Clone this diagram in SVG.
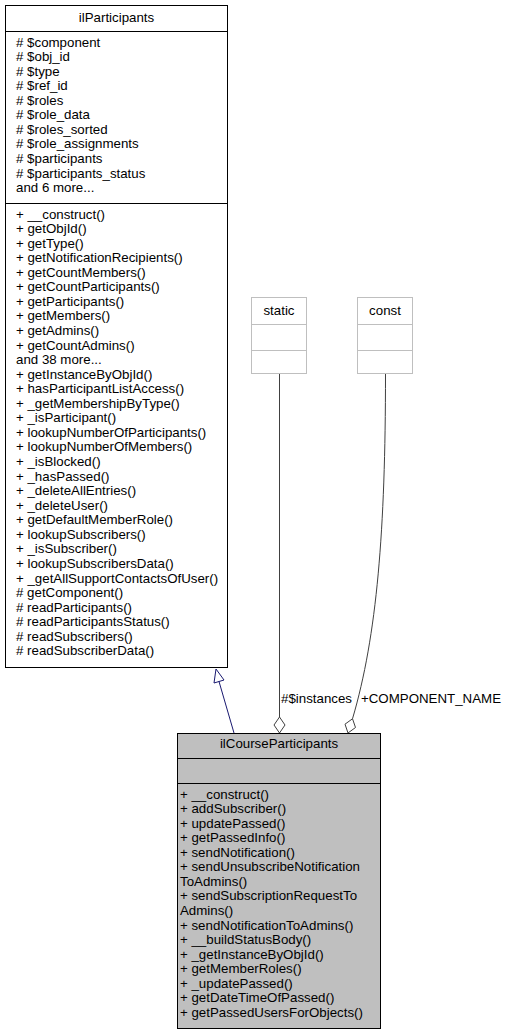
<svg xmlns="http://www.w3.org/2000/svg" width="507" height="1035" viewBox="0 0 507 1035">
<style>
.t{font-family:"Liberation Sans",Arial,Helvetica,sans-serif;font-size:13.3px;fill:#000}
.c{text-anchor:middle}
.box{fill:#fff;stroke:#000;stroke-width:1}
.hl{fill:#bfbfbf;stroke:#000;stroke-width:1}
.gb{fill:#fff;stroke:#bfbfbf;stroke-width:1}
.div{stroke:#000;stroke-width:1}
.gdiv{stroke:#bfbfbf;stroke-width:1}
.inh{fill:none;stroke:#191970;stroke-width:1}
.use{fill:none;stroke:#404040;stroke-width:1}
</style>
<rect width="507" height="1035" fill="#fff"/>
<g id="connectors">
  <path class="inh" d="M234,733 L219,681.5"/>
  <polygon class="inh" fill="#fff" points="216,669 214,683 224,680"/>
  <path class="use" d="M279.5,374 L279.5,717"/>
  <polygon class="use" fill="#fff" points="279.5,733 285,725 279.5,717 274,725"/>
  <path class="use" d="M385.5,374 C385.5,530 377,636 352.5,718.75"/>
  <polygon class="use" fill="#fff" points="348,733 345,724.2 352.5,718.75 355.5,727.5"/>
  <text class="t" x="281" y="703">#$instances</text>
  <text class="t" x="361" y="703">+COMPONENT_NAME</text>
</g>
<g id="ilParticipants">
  <rect class="box" x="5.5" y="5.5" width="222" height="662"/>
  <line class="div" x1="5.5" y1="31.5" x2="227.5" y2="31.5"/>
  <line class="div" x1="5.5" y1="203.5" x2="227.5" y2="203.5"/>
  <text class="t c" x="116.5" y="22">ilParticipants</text>
  <text class="t" x="16" y="46.5">
    <tspan x="16"># $component</tspan>
    <tspan x="16" dy="14.56"># $obj_id</tspan>
    <tspan x="16" dy="14.56"># $type</tspan>
    <tspan x="16" dy="14.56"># $ref_id</tspan>
    <tspan x="16" dy="14.56"># $roles</tspan>
    <tspan x="16" dy="14.56"># $role_data</tspan>
    <tspan x="16" dy="14.56"># $roles_sorted</tspan>
    <tspan x="16" dy="14.56"># $role_assignments</tspan>
    <tspan x="16" dy="14.56"># $participants</tspan>
    <tspan x="16" dy="14.56"># $participants_status</tspan>
    <tspan x="16" dy="14.56">and 6 more...</tspan>
  </text>
  <text class="t" x="16" y="218.5">
    <tspan x="16">+ __construct()</tspan>
    <tspan x="16" dy="14.56">+ getObjId()</tspan>
    <tspan x="16" dy="14.56">+ getType()</tspan>
    <tspan x="16" dy="14.56">+ getNotificationRecipients()</tspan>
    <tspan x="16" dy="14.56">+ getCountMembers()</tspan>
    <tspan x="16" dy="14.56">+ getCountParticipants()</tspan>
    <tspan x="16" dy="14.56">+ getParticipants()</tspan>
    <tspan x="16" dy="14.56">+ getMembers()</tspan>
    <tspan x="16" dy="14.56">+ getAdmins()</tspan>
    <tspan x="16" dy="14.56">+ getCountAdmins()</tspan>
    <tspan x="16" dy="14.56">and 38 more...</tspan>
    <tspan x="16" dy="14.56">+ getInstanceByObjId()</tspan>
    <tspan x="16" dy="14.56">+ hasParticipantListAccess()</tspan>
    <tspan x="16" dy="14.56">+ _getMembershipByType()</tspan>
    <tspan x="16" dy="14.56">+ _isParticipant()</tspan>
    <tspan x="16" dy="14.56">+ lookupNumberOfParticipants()</tspan>
    <tspan x="16" dy="14.56">+ lookupNumberOfMembers()</tspan>
    <tspan x="16" dy="14.56">+ _isBlocked()</tspan>
    <tspan x="16" dy="14.56">+ _hasPassed()</tspan>
    <tspan x="16" dy="14.56">+ _deleteAllEntries()</tspan>
    <tspan x="16" dy="14.56">+ _deleteUser()</tspan>
    <tspan x="16" dy="14.56">+ getDefaultMemberRole()</tspan>
    <tspan x="16" dy="14.56">+ lookupSubscribers()</tspan>
    <tspan x="16" dy="14.56">+ _isSubscriber()</tspan>
    <tspan x="16" dy="14.56">+ lookupSubscribersData()</tspan>
    <tspan x="16" dy="14.56">+ _getAllSupportContactsOfUser()</tspan>
    <tspan x="16" dy="14.56"># getComponent()</tspan>
    <tspan x="16" dy="14.56"># readParticipants()</tspan>
    <tspan x="16" dy="14.56"># readParticipantsStatus()</tspan>
    <tspan x="16" dy="14.56"># readSubscribers()</tspan>
    <tspan x="16" dy="14.56"># readSubscriberData()</tspan>
  </text>
</g>
<g id="static">
  <rect class="gb" x="251.5" y="297.5" width="55" height="76"/>
  <line class="gdiv" x1="251.5" y1="324.5" x2="306.5" y2="324.5"/>
  <line class="gdiv" x1="251.5" y1="350.5" x2="306.5" y2="350.5"/>
  <text class="t c" x="279" y="315">static</text>
</g>
<g id="const">
  <rect class="gb" x="357.5" y="297.5" width="55" height="76"/>
  <line class="gdiv" x1="357.5" y1="324.5" x2="412.5" y2="324.5"/>
  <line class="gdiv" x1="357.5" y1="350.5" x2="412.5" y2="350.5"/>
  <text class="t c" x="385" y="315">const</text>
</g>
<g id="ilCourseParticipants">
  <rect class="hl" x="177.5" y="733.5" width="203" height="295"/>
  <line class="div" x1="177.5" y1="758.5" x2="380.5" y2="758.5"/>
  <line class="div" x1="177.5" y1="783.5" x2="380.5" y2="783.5"/>
  <text class="t c" x="279" y="748">ilCourseParticipants</text>
  <text class="t" x="180" y="798.5">
    <tspan x="180">+ __construct()</tspan>
    <tspan x="180" dy="14.56">+ addSubscriber()</tspan>
    <tspan x="180" dy="14.56">+ updatePassed()</tspan>
    <tspan x="180" dy="14.56">+ getPassedInfo()</tspan>
    <tspan x="180" dy="14.56">+ sendNotification()</tspan>
    <tspan x="180" dy="14.56">+ sendUnsubscribeNotification</tspan>
    <tspan x="180" dy="14.56">ToAdmins()</tspan>
    <tspan x="180" dy="14.56">+ sendSubscriptionRequestTo</tspan>
    <tspan x="180" dy="14.56">Admins()</tspan>
    <tspan x="180" dy="14.56">+ sendNotificationToAdmins()</tspan>
    <tspan x="180" dy="14.56">+ __buildStatusBody()</tspan>
    <tspan x="180" dy="14.56">+ _getInstanceByObjId()</tspan>
    <tspan x="180" dy="14.56">+ getMemberRoles()</tspan>
    <tspan x="180" dy="14.56">+ _updatePassed()</tspan>
    <tspan x="180" dy="14.56">+ getDateTimeOfPassed()</tspan>
    <tspan x="180" dy="14.56">+ getPassedUsersForObjects()</tspan>
  </text>
</g>
</svg>
